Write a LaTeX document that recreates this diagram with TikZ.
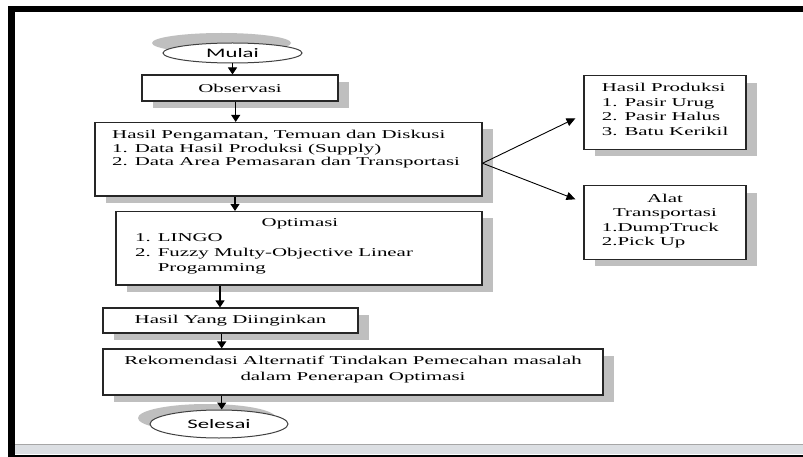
\documentclass[tikz,border=0pt]{standalone}
\usepackage{fontspec}
\setmainfont{Liberation Serif}[FakeStretch=1.74]
\newfontfamily\calib{Carlito}[FakeStretch=1.75]
\usetikzlibrary{arrows.meta,shadows,shapes.geometric}
\definecolor{shd}{HTML}{BFBFBF}
\definecolor{bandc}{HTML}{DCDFE3}
\newcommand\mysz[1]{\fontsize{12}{#1}\selectfont}
\begin{document}
\begin{tikzpicture}[x=1pt,y=-1pt,
  box/.style={draw=black!85, line width=1.1pt, fill=white, inner sep=0pt,
    font=\mysz{14.5},
    drop shadow={shadow xshift=11pt, shadow yshift=-7pt, fill=shd, opacity=1}},
  ell/.style={ellipse, draw=black!75, line width=1pt, fill=white, inner sep=0pt,
    font=\calib\fontsize{13}{15}\selectfont},
  txt/.style={inner sep=0pt, align=left},
  arr/.style={line width=1.1pt, -{Triangle[width=9pt,length=7pt]}},
  diag/.style={line width=0.9pt, -{Triangle[width=8pt,length=9pt]}}]
\useasboundingbox (0,0) rectangle (803,457);
\fill[white] (0,0) rectangle (803,457);
% frame
\fill[black] (8,6) rectangle (803,12);
\fill[black] (8,6) rectangle (15,457);
\fill[bandc] (15,444) rectangle (803,453.5);
\draw[black!35, line width=0.8pt] (15,444) -- (803,444);
\fill[black] (15,454.5) rectangle (803,457);
% main column
\node[ell, minimum width=139pt, minimum height=20pt,
  drop shadow={shadow xshift=-11pt, shadow yshift=10pt, fill=shd, opacity=1}]
  (mulai) at (232.5,53) {Mulai};
\node[box, minimum width=196pt, minimum height=26pt] (obs) at (240,88) {Observasi};
\node[box, minimum width=387pt, minimum height=73.5pt] (hp) at (288.5,159.25) {};
\node[txt, anchor=north west, font=\mysz{13.5}] (hpt) at (112,130)
  {Hasil Pengamatan, Temuan dan Diskusi\\ 1. Data Hasil Produksi (Supply)\\ 2. Data Area Pemasaran dan Transportasi};
\node[box, minimum width=366pt, minimum height=73.5pt] (opt) at (299,248.25) {};
\node[txt, anchor=north, font=\mysz{14.6}] (optt) at (300,218.8) {Optimasi};
\node[txt, anchor=north west, font=\mysz{14.6}] (optl) at (135,233.8)
  {1. LINGO\\2. Fuzzy Multy-Objective Linear\\\hphantom{2. }Progamming};
\node[box, minimum width=255pt, minimum height=25pt] (hyd) at (230.5,320.5) {Hasil Yang Diinginkan};
\node[box, minimum width=500pt, minimum height=46pt] (rek) at (353,372) {};
\node[txt, anchor=north, align=center, font=\mysz{16.5}] (rekt) at (353,355.8)
  {Rekomendasi Alternatif Tindakan Pemecahan masalah\\dalam Penerapan Optimasi};
\node[ell, minimum width=138pt, minimum height=28pt,
  drop shadow={shadow xshift=-12pt, shadow yshift=6pt, fill=shd, opacity=1}]
  (sel) at (219,424) {Selesai};
% right column
\node[box, minimum width=162pt, minimum height=73.6pt] (hpr) at (665,112.5) {};
\node[txt, anchor=north west, font=\mysz{14.8}] (hprt) at (601.7,82.8)
  {Hasil Produksi\\1. Pasir Urug\\2. Pasir Halus\\3. Batu Kerikil};
\node[box, minimum width=162pt, minimum height=73.6pt] (alat) at (665,222.5) {};
\node[txt, anchor=north, align=center, font=\mysz{14.2}] (alatt) at (665,193.5)
  {Alat\\Transportasi};
\node[txt, anchor=north west, font=\mysz{14.3}] (alatl) at (601.7,222.5)
  {1.DumpTruck\\2.Pick Up};
% connectors
\draw[arr] (mulai.south) -- (mulai.south |- obs.north);
\draw[arr] ([xshift=-4.3pt]obs.south) -- ([xshift=-4.3pt]obs.south |- hp.north);
\draw[arr] ([xshift=-53.5pt]hp.south) -- ([xshift=-53.5pt]hp.south |- opt.north);
\draw[arr] ([xshift=-79pt]opt.south) -- ([xshift=-79pt]opt.south |- hyd.north);
\draw[arr] ([xshift=-8.8pt]hyd.south) -- ([xshift=-8.8pt]hyd.south |- rek.north);
\draw[arr] ([xshift=-131.3pt]rek.south) -- ([xshift=-131.3pt]rek.south |- sel.north);
\draw[diag] ([yshift=-4pt]hp.east) -- ([xshift=-8pt,yshift=-5.8pt]hpr.west);
\draw[diag] ([yshift=-4pt]hp.east) -- ([xshift=-8pt,yshift=23.2pt]alat.west);
\end{tikzpicture}
\end{document}
